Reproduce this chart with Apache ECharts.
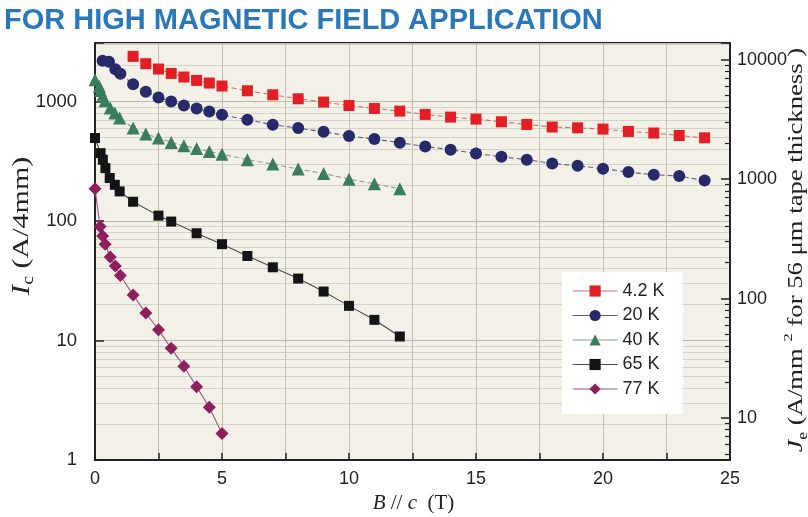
<!DOCTYPE html>
<html><head><meta charset="utf-8">
<script src="https://cdn.jsdelivr.net/npm/echarts@6/dist/echarts.min.js"></script>
<style>html,body{margin:0;padding:0;background:#fff}#c{width:808px;height:517px}</style>
</head><body><div id="c"></div>
<script>
const titleText = 'FOR HIGH MAGNETIC FIELD APPLICATION';
const seriesNames = ['4.2 K', '20 K', '40 K', '65 K', '77 K'];

const B_4K = [1.5, 2, 2.5, 3, 3.5, 4, 4.5, 5, 6, 7, 8, 9, 10, 11, 12, 13, 14, 15, 16, 17, 18, 19, 20, 21, 22, 23, 24];
const Ic_4K = [2387, 2074, 1871, 1719, 1604, 1503, 1429, 1349, 1231, 1139, 1055, 990, 927, 875, 832, 780, 741, 713, 677, 643, 612, 603, 588, 562, 545, 520, 497];

const B_20K = [0.3, 0.55, 0.8, 1.0, 1.5, 2, 2.5, 3, 3.5, 4, 4.5, 5, 6, 7, 8, 9, 10, 11, 12, 13, 14, 15, 16, 17, 18, 19, 20, 21, 22, 23, 24];
const Ic_20K = [2190, 2150, 1860, 1705, 1395, 1208, 1083, 1002, 927, 875, 826, 774, 704, 639, 600, 558, 514, 485, 452, 421, 395, 367, 345, 326, 303, 290, 274, 257, 244, 238, 218];

const B_40K = [0, 0.17, 0.22, 0.3, 0.4, 0.6, 0.78, 0.97, 1.5, 2, 2.5, 3, 3.5, 4, 4.5, 5, 6, 7, 8, 9, 10, 11, 12];
const Ic_40K = [1520, 1340, 1240, 1120, 1016, 883, 801, 728, 600, 534, 495, 455, 427, 405, 382, 363, 326, 300, 272, 250, 224, 205, 186];

const B_65K = [0, 0.22, 0.31, 0.41, 0.58, 0.78, 0.97, 1.5, 2.5, 3, 4, 5, 6, 7, 8, 9, 10, 11, 12];
const Ic_65K = [495, 370, 326, 277, 229, 201, 177, 145, 111, 99, 79, 64, 51, 41, 33, 25.7, 19.5, 14.9, 10.8];

const B_77K = [0, 0.2, 0.3, 0.4, 0.6, 0.8, 1.0, 1.5, 2, 2.5, 3, 3.5, 4, 4.5, 5];
const Ic_77K = [186, 90, 75, 64, 50, 42, 35, 24, 17, 12.3, 8.6, 6.1, 4.1, 2.76, 1.67];

const xTickLabels = [0, 5, 10, 15, 20, 25];
const leftTickLabels = [1, 10, 100, 1000];
const rightTickLabels = [10, 100, 1000, 10000];

const IC_MIN = 1, IC_MAX = 3090;
const JE_PER_IC = 1 / (4 * 0.056); // A/mm^2 per A (4 mm width, 56 um thickness)

const pairs = (xs, ys) => xs.map((x, i) => [x, ys[i]]);
const isDecade = v => Math.abs(Math.log10(v) - Math.round(Math.log10(v))) < 1e-6;

const serif = 'Liberation Serif';
const sans = 'Liberation Sans';
const ink = '#222';

const styles = [
  { symbol: 'rect', size: 11, color: '#e31e24', line: '#c87474', dash: [5, 3] },
  { symbol: 'circle', size: 12, color: '#262a6b', line: '#5a5e7e', dash: [5, 3] },
  { symbol: 'triangle', size: 13, color: '#3a7d5a', line: '#86a092', dash: [5, 3] },
  { symbol: 'rect', size: 10, color: '#141414', line: '#4a4a4a', dash: 'solid' },
  { symbol: 'diamond', size: 13, color: '#8e1f5f', line: '#9a5584', dash: 'solid' }
];
const dataSets = [pairs(B_4K, Ic_4K), pairs(B_20K, Ic_20K), pairs(B_40K, Ic_40K), pairs(B_65K, Ic_65K), pairs(B_77K, Ic_77K)];

const chart = echarts.init(document.getElementById('c'), null, { renderer: 'canvas' });
chart.setOption({
  animation: false,
  backgroundColor: '#ffffff',
  graphic: [{
    type: 'text', left: 4, top: 6,
    style: { text: titleText, font: 'bold 29px "Liberation Sans"', fill: '#2a78b8' }
  }, {
    type: 'text', x: 22, y: 226, rotation: Math.PI / 2, scaleX: 1.25,
    style: {
      text: '{i|I}{s|c} (A/4mm)', fontFamily: serif, fontSize: 24, fill: ink,
      align: 'center', verticalAlign: 'middle', lineHeight: 30,
      rich: { i: { fontFamily: serif, fontStyle: 'italic', fontSize: 25, fill: ink, lineHeight: 30 },
              s: { fontFamily: serif, fontSize: 16, fill: ink, verticalAlign: 'bottom', lineHeight: 14 } }
    }
  }, {
    type: 'text', x: 796, y: 250, rotation: Math.PI / 2, scaleX: 1.27,
    style: {
      text: '{i|J}{s|e} (A/mm {p|2} for 56 μm tape thickness )', fontFamily: serif, fontSize: 21, fill: ink,
      align: 'center', verticalAlign: 'middle', lineHeight: 28,
      rich: { i: { fontFamily: serif, fontStyle: 'italic', fontSize: 22, fill: ink, lineHeight: 28 },
              s: { fontFamily: serif, fontSize: 14, fill: ink, verticalAlign: 'bottom', lineHeight: 12 },
              p: { fontFamily: serif, fontSize: 13, fill: ink, verticalAlign: 'top', lineHeight: 12 } }
    }
  }],
  grid: { left: 95, right: 78, top: 43, bottom: 57, outerBoundsMode: 'none', containLabel: false,
    show: true, backgroundColor: '#f3f1e7', borderColor: ink, borderWidth: 2 },
  legend: {
    orient: 'vertical', left: 562, top: 272,
    padding: [10, 18, 16, 10],
    backgroundColor: '#ffffff',
    itemWidth: 45, itemHeight: 14, itemGap: 6.5,
    textStyle: { fontFamily: sans, fontSize: 18, color: ink },
    lineStyle: { type: 'solid', width: 1.2 },
    data: seriesNames
  },
  xAxis: {
    type: 'value', min: 0, max: 25, interval: 2.5,
    name: '{i|B} // {i|c}  (T)', nameLocation: 'middle', nameGap: 30,
    nameTextStyle: { fontFamily: serif, fontSize: 21, color: ink, padding: [0, 0, 0, 2],
      rich: { i: { fontFamily: serif, fontStyle: 'italic', fontSize: 21, color: ink } } },
    axisLine: { show: true, lineStyle: { color: ink, width: 2 } },
    axisTick: { show: true, inside: true, length: 7, lineStyle: { color: ink, width: 1.5 } },
    axisLabel: { fontFamily: sans, fontSize: 18, color: ink, margin: 10,
      formatter: v => xTickLabels.indexOf(v) >= 0 ? String(v) : '' },
    splitLine: { show: true, lineStyle: { color: '#c2beb2', width: 1 } }
  },
  yAxis: [{
    type: 'log', logBase: 10, min: IC_MIN, max: IC_MAX, position: 'left',
    axisLine: { show: true, lineStyle: { color: ink, width: 2 } },
    axisTick: { show: true, inside: true, length: 9, lineStyle: { color: ink, width: 1.5 } },
    minorTick: { show: false, splitNumber: 9 },
    minorSplitLine: { show: true, lineStyle: { color: '#d4d1c7', width: 1 } },
    axisLabel: { fontFamily: sans, fontSize: 18.5, color: ink, margin: 18,
      formatter: v => (isDecade(v) && leftTickLabels.indexOf(Math.round(v)) >= 0) ? String(Math.round(v)) : '' },
    splitLine: { show: true, lineStyle: { color: '#bdb9ad', width: 1 } }
  }, {
    type: 'log', logBase: 10, min: IC_MIN * JE_PER_IC, max: IC_MAX * JE_PER_IC, position: 'right',
    axisLine: { show: true, lineStyle: { color: ink, width: 2 } },
    axisTick: { show: true, inside: true, length: 9, lineStyle: { color: ink, width: 1.5 } },
    minorTick: { show: true, splitNumber: 9, length: 5, lineStyle: { color: ink, width: 1.2 } },
    axisLabel: { fontFamily: sans, fontSize: 18, color: ink, margin: 7,
      formatter: v => (isDecade(v) && rightTickLabels.indexOf(Math.round(v)) >= 0) ? String(Math.round(v)) : '' },
    splitLine: { show: false }
  }],
  series: dataSets.map((d, k) => ({
    name: seriesNames[k], type: 'line', yAxisIndex: 0, data: d,
    symbol: styles[k].symbol, symbolSize: styles[k].size,
    itemStyle: { color: styles[k].color },
    lineStyle: { color: styles[k].line, width: 1.1, type: styles[k].dash },
    z: 10 - k
  }))
});
</script></body></html>
